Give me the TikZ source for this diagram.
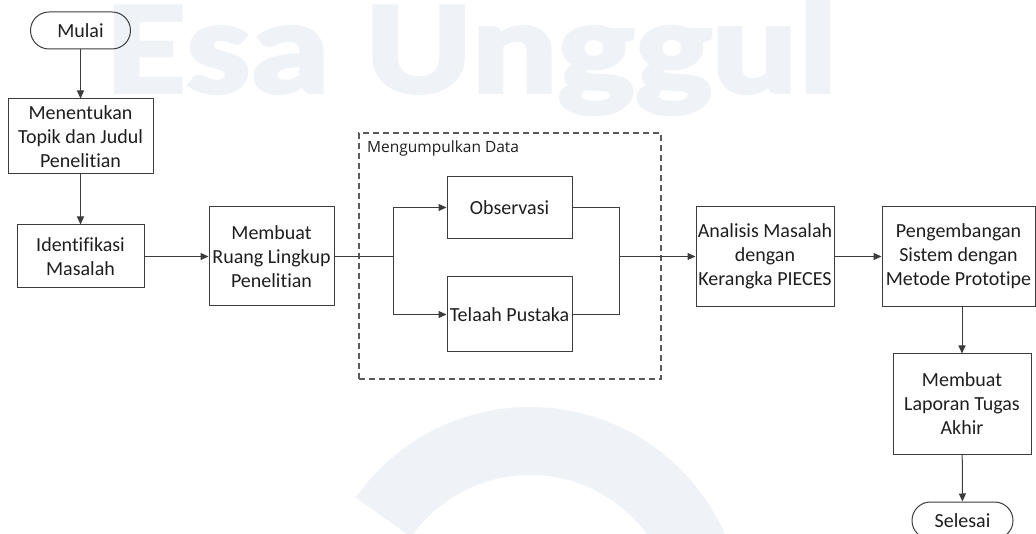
\documentclass[tikz,border=0pt]{standalone}
\usepackage{fontspec}
\setmainfont{Carlito}[Ligatures={NoCommon,NoRare}]
\newfontfamily\lblfont{Open Sans}
\newfontfamily\wmfont{Carlito Bold}[FakeBold=3]
\usetikzlibrary{arrows.meta,shapes.misc}
\definecolor{wm}{HTML}{EFF3F8}
\definecolor{lnc}{HTML}{3C3C3C}
\definecolor{tx}{HTML}{1E1E1E}
\definecolor{dsh}{HTML}{5A5A5A}
\begin{document}
\begin{tikzpicture}[x=1pt,y=-1pt,
  box/.style={draw=lnc, line width=1pt, rectangle, inner sep=0pt, align=center, text=tx,
    font=\fontsize{20}{24}\selectfont},
  term/.style={box, rounded rectangle},
  arr/.style={draw=lnc, line width=1pt, -{Triangle[length=8pt,width=7pt]}},
  conn/.style={draw=lnc, line width=1pt},
  grpbox/.style={draw=dsh, line width=1.2pt, dash pattern=on 6pt off 4pt, inner sep=0pt}]
\useasboundingbox (0,0) rectangle (1036,534);
\clip (0,0) rectangle (1036,534);
% watermark
\node[text=wm, font=\wmfont\fontsize{132}{132}\selectfont, anchor=base west, inner sep=0pt, xscale=1.22] (wmtext) at (107,92) {Esa Unggul};
\draw[wm, line width=68pt] (530,620) ++(215:179) arc[start angle=215, end angle=360, radius=179];
% nodes
\node[term, minimum width=100pt, minimum height=37pt] (mulai) at (80.5,30.5) {Mulai};
\node[box, minimum width=145pt, minimum height=75pt] (topik) at (80.5,136.5) {Menentukan\\Topik dan Judul\\Penelitian};
\node[box, minimum width=127pt, minimum height=63pt] (idm) at (80.5,256.5) {Identifikasi\\Masalah};
\node[box, minimum width=125pt, minimum height=99pt] (ruang) at (271.5,256.5) {Membuat\\Ruang Lingkup\\Penelitian};
\node[grpbox, minimum width=302pt, minimum height=246pt] (grp) at (510,256) {};
\node[anchor=west, inner sep=0pt, text=tx, font=\lblfont\fontsize{15.5}{18}\selectfont] (glbl) at (367,148) {Mengumpulkan Data};
\node[box, minimum width=125pt, minimum height=62pt] (obs) at (509.5,207.5) {Observasi};
\node[box, minimum width=125pt, minimum height=75pt] (tel) at (509.5,314.5) {Telaah Pustaka};
\node[box, minimum width=138pt, minimum height=100pt] (ana) at (765,256.5) {Analisis Masalah\\dengan\\Kerangka PIECES};
\node[box, minimum width=153pt, minimum height=100pt] (peng) at (958.5,256.5) {Pengembangan\\Sistem dengan\\Metode Prototipe};
\node[box, minimum width=138pt, minimum height=100pt] (lap) at (962,404) {Membuat\\Laporan Tugas\\Akhir};
\node[term, minimum width=101pt, minimum height=37pt] (sel) at (962.5,520.5) {Selesai};
% connectors
\coordinate (bl) at (393,256.5);
\coordinate (br) at (619,256.5);
\draw[arr] (mulai) -- (topik);
\draw[arr] (topik) -- (idm);
\draw[arr] (idm) -- (ruang);
\draw[conn] (ruang.east) -- (bl);
\draw[arr] (bl) |- (obs.west);
\draw[arr] (bl) |- (tel.west);
\draw[conn] (obs.east) -| (br);
\draw[conn] (tel.east) -| (br);
\draw[arr] (br) -- (ana.west);
\draw[arr] (ana) -- (peng);
\draw[arr] (peng.south -| lap.north) -- (lap.north);
\draw[arr] (lap) -- (sel);
\end{tikzpicture}
\end{document}
